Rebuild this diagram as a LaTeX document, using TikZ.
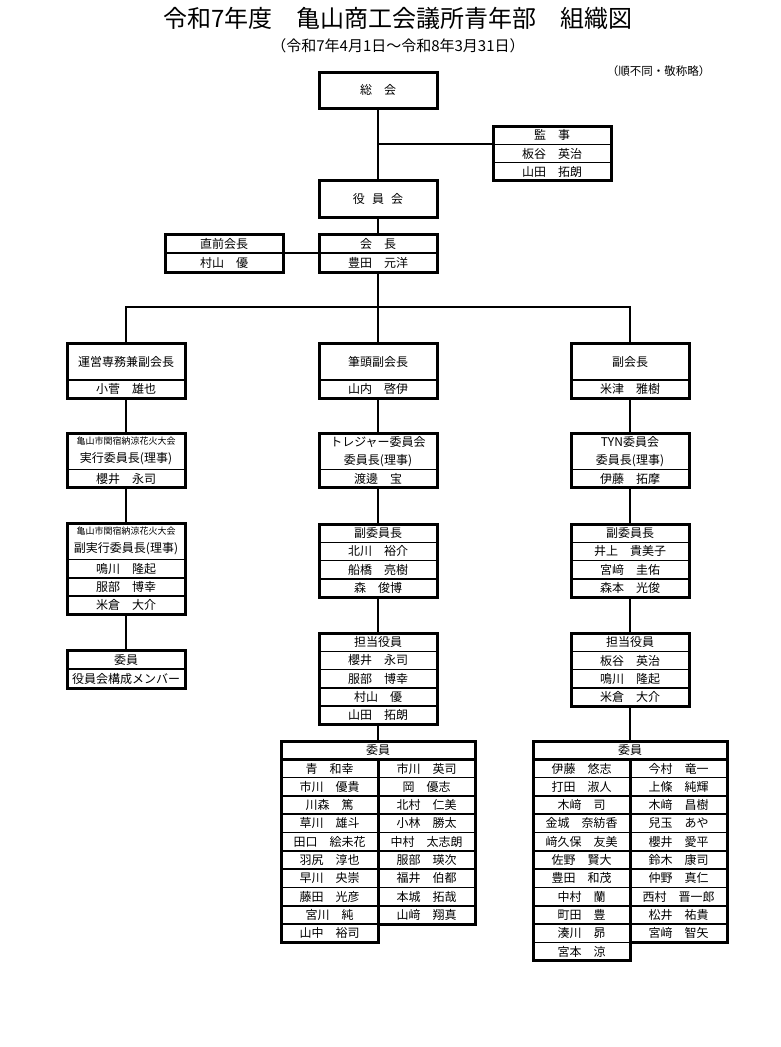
\documentclass[tikz,border=0pt]{standalone}
\usepackage{fontspec}
\newfontfamily\cjk{Noto Sans CJK JP}
\usetikzlibrary{positioning}

\tikzset{
  cell/.style={draw, line width=1.6pt, outer sep=0pt, inner sep=0pt, minimum width=118pt,
    minimum height=18.3pt, anchor=north, font=\cjk\fontsize{12}{18}\selectfont},
  headcell/.style={cell, minimum height=37pt},
  twoline/.style={cell, minimum height=36.5pt, align=center},
  member/.style={cell, minimum width=97pt, anchor=north west},
  frame/.style={line width=3pt},
  link/.style={line width=2pt},
}

\begin{document}
\begin{tikzpicture}[x=1pt,y=-1pt]
		\useasboundingbox (0,0) rectangle (781,1047);
		% Titles
		\node[font=\cjk\fontsize{24}{26}\selectfont] (title) at (398,18) {令和7年度　亀山商工会議所青年部　組織図};
		\node[font=\cjk\fontsize{15}{17}\selectfont] (period) at (398,46) {（令和7年4月1日～令和8年3月31日）};
		\node[font=\cjk\fontsize{11.5}{13}\selectfont, anchor=east] (note) at (714,71) {（順不同・敬称略）};

		% Top
		\node[cell, minimum height=36pt] (sokai) at (378,72) {総　会};
		\node[cell] (kanji) at (552,126) {監　事};
		\node[cell, below=0pt of kanji] (kanji1) {板谷　英治};
		\node[cell, below=0pt of kanji1] (kanji2) {山田　拓朗};
		\node[headcell] (yakuin) at (378,180) {役\hspace{0.6em}員\hspace{0.6em}会};
		\node[cell, minimum height=19pt] (kaicho) at (378,234) {会　長};
		\node[cell, minimum height=19pt, below=0pt of kaicho] (kaicho1) {豊田　元洋};
		\node[cell, minimum height=19pt] (chokuzen) at (224,234) {直前会長};
		\node[cell, minimum height=19pt, below=0pt of chokuzen] (chokuzen1) {村山　優};
		\coordinate (bus) at (378,307);

		% Left column
		\node[headcell] (unei) at (126,343) {運営専務兼副会長};
		\node[cell, below=0pt of unei] (unei1) {小菅　雄也};
		\node[twoline] (hanabi) at (126,433) {{\fontsize{9}{10}\selectfont 亀山市関宿納涼花火大会}\\実行委員長(理事)};
		\node[cell, below=0pt of hanabi] (hanabi1) {櫻井　永司};
		\node[twoline] (fukujikko) at (126,523) {{\fontsize{9}{10}\selectfont 亀山市関宿納涼花火大会}\\副実行委員長(理事)};
		\node[cell, below=0pt of fukujikko] (fukujikko1) {鳴川　隆起};
		\node[cell, below=0pt of fukujikko1] (fukujikko2) {服部　博幸};
		\node[cell, below=0pt of fukujikko2] (fukujikko3) {米倉　大介};
		\node[cell, minimum height=19pt] (iin) at (126,650) {委員};
		\node[cell, minimum height=19pt, below=0pt of iin] (iin1) {役員会構成メンバー};

		% Middle column
		\node[headcell] (hitto) at (378,343) {筆頭副会長};
		\node[cell, below=0pt of hitto] (hitto1) {山内　啓伊};
		\node[twoline] (treasure) at (378,433) {トレジャー委員会\\委員長(理事)};
		\node[cell, below=0pt of treasure] (treasure1) {渡邊　宝};
		\node[cell] (fukuiin) at (378,524) {副委員長};
		\node[cell, below=0pt of fukuiin] (fukuiin1) {北川　裕介};
		\node[cell, below=0pt of fukuiin1] (fukuiin2) {船橋　亮樹};
		\node[cell, below=0pt of fukuiin2] (fukuiin3) {森　俊博};
		\node[cell] (tanto) at (378,633) {担当役員};
		\node[cell, below=0pt of tanto] (tanto1) {櫻井　永司};
		\node[cell, below=0pt of tanto1] (tanto2) {服部　博幸};
		\node[cell, below=0pt of tanto2] (tanto3) {村山　優};
		\node[cell, below=0pt of tanto3] (tanto4) {山田　拓朗};
		\node[cell, minimum width=194pt] (mhead) at (378,741) {委員};
		\foreach \nm [count=\i] in {青　和幸,市川　優貴,川森　篤,草川　雄斗,田口　絵未花,羽尻　淳也,早川　央崇,藤田　光彦,宮川　純,山中　裕司}
		\node[member] (ml\i) at (281,{759.3+18.3*(\i-1)}) {\nm};
		\foreach \nm [count=\i] in {市川　英司,岡　優志,北村　仁美,小林　勝太,中村　太志朗,服部　瑛次,福井　伯都,本城　拓哉,山﨑　翔真}
		\node[member] (mr\i) at (378,{759.3+18.3*(\i-1)}) {\nm};

		% Right column
		\node[headcell] (fukukaicho) at (630,343) {副会長};
		\node[cell, below=0pt of fukukaicho] (fukukaicho1) {米津　雅樹};
		\node[twoline] (tyn) at (630,433) {TYN委員会\\委員長(理事)};
		\node[cell, below=0pt of tyn] (tyn1) {伊藤　拓摩};
		\node[cell] (fukuiinR) at (630,524) {副委員長};
		\node[cell, below=0pt of fukuiinR] (fukuiinR1) {井上　貴美子};
		\node[cell, below=0pt of fukuiinR1] (fukuiinR2) {宮﨑　圭佑};
		\node[cell, below=0pt of fukuiinR2] (fukuiinR3) {森本　光俊};
		\node[cell] (tantoR) at (630,633) {担当役員};
		\node[cell, below=0pt of tantoR] (tantoR1) {板谷　英治};
		\node[cell, below=0pt of tantoR1] (tantoR2) {鳴川　隆起};
		\node[cell, below=0pt of tantoR2] (tantoR3) {米倉　大介};
		\node[cell, minimum width=194pt] (rhead) at (630,741) {委員};
		\foreach \nm [count=\i] in {伊藤　悠志,打田　淑人,木﨑　司,金城　奈紡香,﨑久保　友美,佐野　賢大,豊田　和茂,中村　蘭,町田　豊,湊川　昴,宮本　涼}
		\node[member] (rl\i) at (533,{759.3+18.3*(\i-1)}) {\nm};
		\foreach \nm [count=\i] in {今村　竜一,上條　純輝,木﨑　昌樹,兒玉　あや,櫻井　愛平,鈴木　康司,仲野　真仁,西村　晋一郎,松井　祐貴,宮﨑　智矢}
		\node[member] (rr\i) at (630,{759.3+18.3*(\i-1)}) {\nm};

		% Frames
		\foreach \a/\b in {sokai/sokai,kanji/kanji2,yakuin/yakuin,kaicho/kaicho1,chokuzen/chokuzen1,
			unei/unei1,hanabi/hanabi1,fukujikko/fukujikko3,iin/iin1,
			hitto/hitto1,treasure/treasure1,fukuiin/fukuiin3,tanto/tanto4,
			fukukaicho/fukukaicho1,tyn/tyn1,fukuiinR/fukuiinR3,tantoR/tantoR3,
			mhead/mhead,ml1/ml10,mr1/mr9,rhead/rhead,rl1/rl11,rr1/rr10}
		\draw[frame] (\a.north west) rectangle (\b.south east);

		% Connectors
		\draw[link] (sokai) -- (yakuin);
		\draw[link] (sokai |- kanji.south) -- (kanji.south west);
		\draw[link] (yakuin) -- (kaicho);
		\draw[link] (chokuzen.south east) -- (kaicho.south west);
		\draw[link] (kaicho1) -- (bus);
		\draw[link] (unei) |- (bus) -| (fukukaicho);
		\draw[link] (bus) -- (hitto);
		\draw[link] (unei1) -- (hanabi);
		\draw[link] (hanabi1) -- (fukujikko);
		\draw[link] (fukujikko3) -- (iin);
		\draw[link] (hitto1) -- (treasure);
		\draw[link] (treasure1) -- (fukuiin);
		\draw[link] (fukuiin3) -- (tanto);
		\draw[link] (tanto4) -- (mhead);
		\draw[link] (fukukaicho1) -- (tyn);
		\draw[link] (tyn1) -- (fukuiinR);
		\draw[link] (fukuiinR3) -- (tantoR);
		\draw[link] (tantoR3) -- (rhead);
	\end{tikzpicture}
\end{document}
